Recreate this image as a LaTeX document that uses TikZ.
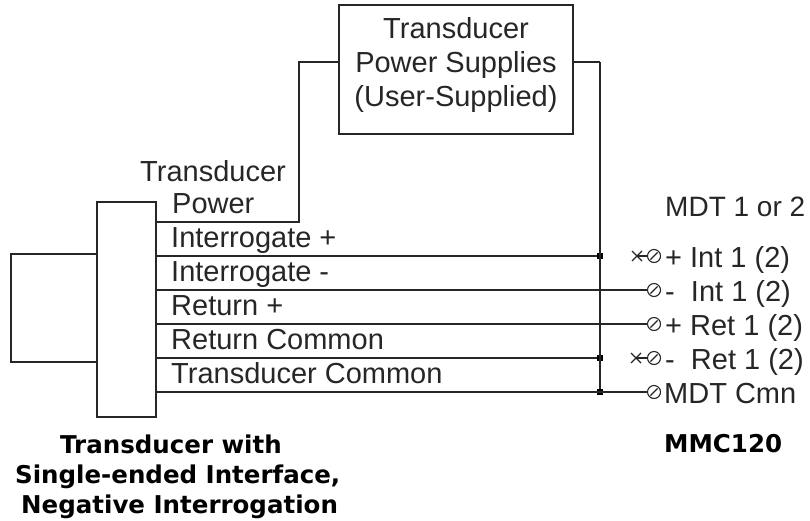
\documentclass[tikz,border=0pt]{standalone}
\usepackage{fontspec}
\setmainfont{Liberation Sans}
\newfontfamily\boldfam{DejaVu Sans Bold}
\newcommand{\screw}[2]{%
  \node[term] (#1) at (#2) {};
  \draw[thinl] ([shift={(-135:5pt)}]#1.center) -- ([shift={(45:5pt)}]#1.center);}
\newcommand{\crossmark}[1]{%
  \draw[thinl] ([shift={(-5,-5)}]#1) -- ([shift={(5,5)}]#1);
  \draw[thinl] ([shift={(-5,5)}]#1) -- ([shift={(5,-5)}]#1);}
\tikzset{x=1pt,y=-1pt,
  wire/.style={line width=1.4pt,black!85},
  thinl/.style={line width=1.1pt,black!85},
  lbl/.style={font=\fontsize{29}{34}\selectfont,inner sep=0pt,anchor=base west,text=black!85},
  bold/.style={font=\fontsize{24.5}{30}\boldfam\selectfont,inner sep=0pt,anchor=base west,text=black},
  term/.style={circle,draw=black!85,line width=1.1pt,minimum size=13pt,inner sep=0pt,fill=white},
  dotj/.style={rectangle,fill=black,minimum size=6pt,inner sep=0pt},
  boxs/.style={draw=black!85,line width=1.4pt,fill=white,inner sep=0pt}}
\begin{document}
\begin{tikzpicture}
\useasboundingbox (0,0) rectangle (810,520);
\node[boxs,minimum width=86pt,minimum height=108pt] (sensor) at (54,308) {};
\node[boxs,minimum width=59pt,minimum height=215pt] (conn) at (126.5,309.5) {};
\node[boxs,minimum width=234pt,minimum height=129pt] (psu) at (456,69.5) {};
\coordinate (pwr) at (156,222);
\coordinate (bend1) at (299,222);
\coordinate (bend2) at (299,62);
\coordinate (psuin) at (339,62);
\coordinate (psuout) at (573,62);
\coordinate (bus) at (600,62);
\coordinate (w1) at (156,256);
\coordinate (w2) at (156,290);
\coordinate (w3) at (156,324);
\coordinate (w4) at (156,358);
\coordinate (w5) at (156,392);
\coordinate (x1) at (637,256);
\coordinate (x2) at (636,358);
\draw[wire] (pwr) -- (bend1) -- (bend2) -- (psuin);
\draw[wire] (psuout) -- (bus);
\screw{t1}{654,256}
\screw{t2}{654,290}
\screw{t3}{654,324}
\screw{t4}{654,358}
\screw{t5}{654,392}
\node[dotj] (j1) at (600,256) {};
\node[dotj] (j2) at (600,358) {};
\node[dotj] (j3) at (600,392) {};
\draw[wire] (bus) -- (j3);
\draw[wire] (w1) -- (j1);
\draw[wire] (w2) -- (t2);
\draw[wire] (w3) -- (t3);
\draw[wire] (w4) -- (j2);
\draw[wire] (w5) -- (t5);
\draw[thinl] (x1) -- (t1);
\draw[thinl] (x2) -- (t4);
\crossmark{x1}
\crossmark{x2}
\node[lbl,anchor=base] (tp1) at (213,181) {Transducer};
\node[lbl] (tp2) at (172,213) {Power};
\node[lbl] (n1) at (171,247) {Interrogate +};
\node[lbl] (n2) at (171,281) {Interrogate -};
\node[lbl] (n3) at (171,315) {Return +};
\node[lbl] (n4) at (171,349) {Return Common};
\node[lbl] (n5) at (171,383) {Transducer Common};
\node[lbl,anchor=base] (p1) at (456,38) {Transducer};
\node[lbl,anchor=base] (p2) at (456,72) {Power Supplies};
\node[lbl,anchor=base] (p3) at (456,106) {(User-Supplied)};
\node[lbl,font=\fontsize{28}{34}\selectfont] (m0) at (665,216) {MDT 1 or 2};
\node[lbl] (m1) at (665,267) {+ Int 1 (2)};
\node[lbl] (m2) at (665,301) {-\ \ Int 1 (2)};
\node[lbl] (m3) at (665,335) {+ Ret 1 (2)};
\node[lbl] (m4) at (665,369) {-\ \ Ret 1 (2)};
\node[lbl] (m5) at (664,403) {MDT Cmn};
\node[bold] (b1) at (60,453) {Transducer with};
\node[bold] (b2) at (15,483) {Single-ended Interface,};
\node[bold] (b3) at (21,513) {Negative Interrogation};
\node[bold] (b4) at (664,452) {MMC120};
\end{tikzpicture}
\end{document}
